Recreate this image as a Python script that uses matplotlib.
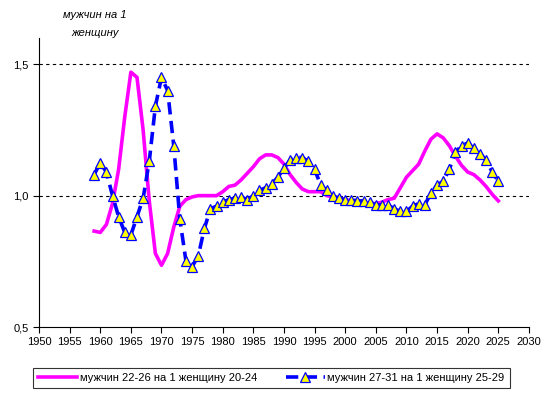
import numpy as np
import matplotlib.pyplot as plt

plt.rcParams['font.family'] = ['Liberation Sans', 'DejaVu Sans']

years = list(range(1959, 2026))

# мужчин 22-26 на 1 женщину 20-24
men_22_26 = [0.865, 0.86, 0.89, 0.97, 1.10, 1.30, 1.47, 1.45, 1.25, 0.98,
             0.78, 0.735, 0.78, 0.88, 0.96, 0.985, 0.995, 1.0, 1.0, 1.0,
             1.0, 1.015, 1.035, 1.04, 1.06, 1.085, 1.11, 1.14, 1.155, 1.155,
             1.145, 1.12, 1.08, 1.05, 1.025, 1.015, 1.015, 1.015, 1.0, 0.995,
             0.99, 0.985, 0.98, 0.975, 0.975, 0.97, 0.97, 0.975, 0.985, 0.99,
             1.03, 1.07, 1.095, 1.12, 1.17, 1.215, 1.235, 1.22, 1.19, 1.15,
             1.115, 1.09, 1.08, 1.06, 1.035, 1.005, 0.98]

# мужчин 27-31 на 1 женщину 25-29
men_27_31 = [1.08, 1.125, 1.09, 1.0, 0.92, 0.86, 0.85, 0.92, 0.99, 1.13,
             1.34, 1.45, 1.40, 1.19, 0.91, 0.75, 0.73, 0.77, 0.875, 0.95,
             0.96, 0.975, 0.985, 0.99, 0.995, 0.985, 1.0, 1.02, 1.03, 1.045,
             1.07, 1.105, 1.135, 1.145, 1.145, 1.13, 1.10, 1.04, 1.02, 1.0,
             0.99, 0.985, 0.985, 0.98, 0.98, 0.975, 0.965, 0.965, 0.965, 0.95,
             0.94, 0.94, 0.96, 0.97, 0.965, 1.01, 1.04, 1.055, 1.10, 1.165,
             1.19, 1.20, 1.18, 1.16, 1.135, 1.09, 1.055]

fig = plt.figure(figsize=(5.48, 3.94), dpi=100)
ax = fig.add_axes([0.0712, 0.170, 0.894, 0.7336])

ax.plot(years, men_22_26, color='#ff00ff', lw=2.6,
        label='мужчин 22-26 на 1 женщину 20-24', zorder=3)
ax.plot(years, men_27_31, color='#0000ff', lw=2.6, dashes=(3.4, 1.8),
        marker='^', markersize=7, markerfacecolor='#ffff00',
        markeredgecolor='#0000ff', markeredgewidth=0.9,
        label='мужчин 27-31 на 1 женщину 25-29', zorder=4)

ax.set_xlim(1950, 2030)
ax.set_ylim(0.5, 1.6)
ax.set_xticks(range(1950, 2031, 5))
ax.set_yticks([0.5, 1.0, 1.5])
ax.set_yticklabels(['0,5', '1,0', '1,5'])
for y in [1.0, 1.5]:
    ax.axhline(y, color='black', lw=0.8, ls=(0, (3, 3)), zorder=1)

ax.spines['top'].set_visible(False)
ax.spines['right'].set_visible(False)
ax.tick_params(labelsize=8, length=4, width=0.8, direction='out')

fig.text(0.173, 0.939, 'мужчин на 1\nженщину', ha='center', va='center',
         fontsize=8, style='italic', linespacing=1.9)

leg = fig.legend(loc='center', bbox_to_anchor=(0.495, 0.04), ncol=2,
                 fontsize=8, frameon=True, fancybox=False, edgecolor='black',
                 columnspacing=2.6, handlelength=3.5, handletextpad=0.25,
                 borderpad=0.45, borderaxespad=0)
leg.get_frame().set_linewidth(0.8)

fig.savefig('out.png', dpi=100)
